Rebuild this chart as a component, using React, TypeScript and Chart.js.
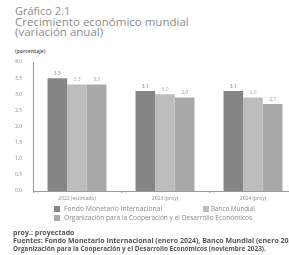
import React, { useEffect, useRef } from "react";
import { Chart, registerables } from "chart.js";
Chart.register(...registerables);

const categories = ["2022 (estimado)", "2023 (proy)", "2024 (proy)"];
const seriesNames = [
  "Fondo Monetario Internacional",
  "Banco Mundial",
  "Organización para la Cooperación y el Desarrollo Económicos",
];
const fmiValues = [3.5, 3.1, 3.1];
const bmValues = [3.3, 3.0, 2.9];
const ocdeValues = [3.3, 2.9, 2.7];
const yMin = 0;
const yMax = 4;
const yStep = 0.5;

const barColors = ["#858585", "#bdbdbd", "#a9a9a9"];
const labelColors = ["#7a7a7a", "#b5b5b5", "#9a9a9a"];
const FONT = "'Open Sans', 'DejaVu Sans', sans-serif";

const fmt = (v: number) => v.toFixed(1).replace(".", ",");

const valueLabels = {
  id: "valueLabels",
  afterDatasetsDraw(chart: any) {
    const ctx = chart.ctx;
    ctx.save();
    ctx.font = `5px ${FONT}`;
    ctx.textAlign = "center";
    ctx.textBaseline = "bottom";
    chart.data.datasets.forEach((ds: any, i: number) => {
      const meta = chart.getDatasetMeta(i);
      meta.data.forEach((el: any, j: number) => {
        ctx.fillStyle = labelColors[i];
        ctx.fillText(fmt(ds.data[j]), el.x, el.y - 2);
      });
    });
    ctx.restore();
  },
};

export default function App() {
  const ref = useRef<HTMLCanvasElement>(null);
  useEffect(() => {
    if (!ref.current) return;
    const chart = new Chart(ref.current, {
      type: "bar",
      data: {
        labels: categories,
        datasets: [fmiValues, bmValues, ocdeValues].map((d, i) => ({
          label: seriesNames[i],
          data: d,
          backgroundColor: barColors[i],
          borderWidth: 0,
          categoryPercentage: 0.67,
          barPercentage: 1,
        })),
      },
      options: {
        animation: false,
        responsive: false,
        devicePixelRatio: 1,
        layout: { padding: { top: 62, right: 0, bottom: 0, left: 0 } },
        plugins: { legend: { display: false }, tooltip: { enabled: false } },
        scales: {
          x: {
            afterFit: (s: any) => {
              s.height = 19;
            },
            grid: { display: true, drawOnChartArea: false, offset: true, tickLength: 2, color: "#9a9a9a" },
            border: { display: true, color: "#9a9a9a", width: 1 },
            ticks: { color: "#8a8a8a", font: { size: 5, family: FONT }, padding: 3, maxRotation: 0 },
          },
          y: {
            min: yMin,
            max: yMax,
            afterFit: (s: any) => {
              s.width = 33;
            },
            grid: { display: false, drawTicks: false },
            border: { display: true, color: "#9a9a9a", width: 1 },
            ticks: {
              stepSize: yStep,
              color: "#8a8a8a",
              font: { size: 5, family: FONT },
              padding: 11,
              callback: (v: any) => fmt(Number(v)),
            },
          },
        },
      },
      plugins: [valueLabels],
    });
    return () => chart.destroy();
  }, []);

  const txt: React.CSSProperties = { position: "absolute", whiteSpace: "nowrap", fontFamily: FONT, margin: 0 };
  const sq = (c: string, left: number, top: number) => (
    <div style={{ position: "absolute", left, top, width: 6, height: 6, background: c }} />
  );

  return (
    <div style={{ position: "fixed", left: 0, top: 0, width: 289, height: 255, overflow: "hidden", background: "#fff" }}>
      <div style={{ ...txt, left: 15, top: 5, fontSize: 11, color: "#8c8c8c", lineHeight: "12px" }}>Gráfico 2.1</div>
      <div style={{ ...txt, left: 15, top: 16, fontSize: 11.5, color: "#8c8c8c", lineHeight: "12px" }}>Crecimiento económico mundial</div>
      <div style={{ ...txt, left: 15, top: 26, fontSize: 11.5, color: "#8c8c8c", lineHeight: "12px" }}>(variación anual)</div>
      <div style={{ ...txt, left: 15, top: 48, fontSize: 5, color: "#6a6a6a", fontWeight: 700, lineHeight: "6px" }}>(porcentaje)</div>
      <canvas ref={ref} width={297} height={210} style={{ position: "absolute", left: 0, top: 0, width: 297, height: 210 }} />
      {sq(barColors[0], 54, 206)}
      <div style={{ ...txt, left: 64, top: 205, fontSize: 6.8, color: "#8a8a8a", lineHeight: "8px" }}>{seriesNames[0]}</div>
      {sq(barColors[1], 203, 206)}
      <div style={{ ...txt, left: 211, top: 205, fontSize: 6.3, color: "#8a8a8a", lineHeight: "8px" }}>{seriesNames[1]}</div>
      {sq(barColors[2], 54, 215)}
      <div style={{ ...txt, left: 64, top: 214, fontSize: 6.6, color: "#8a8a8a", lineHeight: "8px" }}>{seriesNames[2]}</div>
      <div style={{ ...txt, left: 13, top: 228.5, fontSize: 7, color: "#555", fontWeight: 700, lineHeight: "8px" }}>proy.: proyectado</div>
      <div style={{ ...txt, left: 13, top: 236.5, fontSize: 7, color: "#555", fontWeight: 700, lineHeight: "8px" }}>
        Fuentes: Fondo Monetario Internacional (enero 2024), Banco Mundial (enero 2024),
      </div>
      <div style={{ ...txt, left: 13, top: 245, fontSize: 6.4, color: "#555", fontWeight: 700, lineHeight: "8px" }}>
        Organización para la Cooperación y el Desarrollo Económicos (noviembre 2023).
      </div>
    </div>
  );
}
